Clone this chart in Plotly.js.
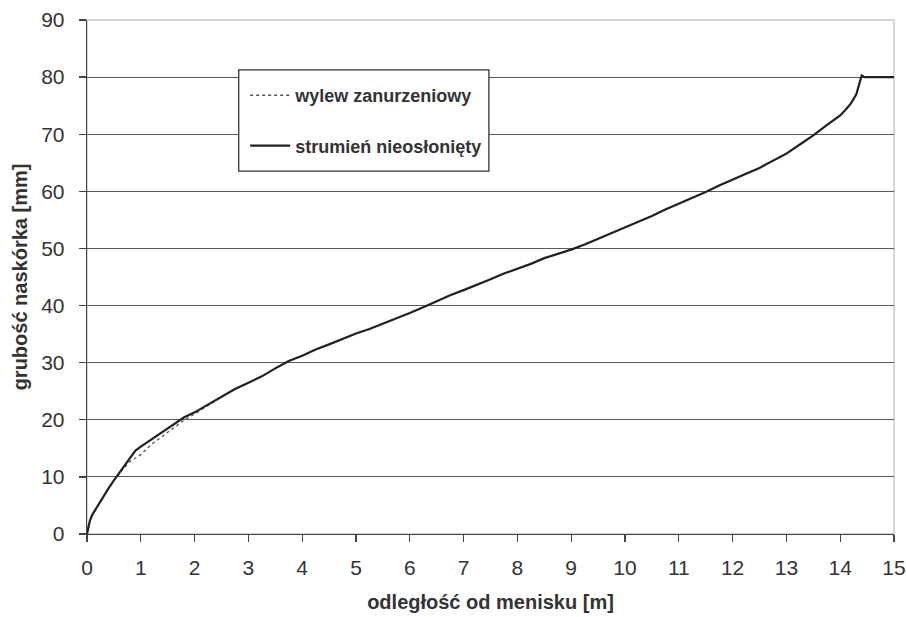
<!DOCTYPE html>
<html>
<head>
<meta charset="utf-8">
<script src="https://cdn.plot.ly/plotly-3.0.1.min.js"></script>
<style>html,body{margin:0;padding:0;background:#fff;}#chart{width:906px;height:617px;}</style>
</head>
<body>
<div id="chart"></div>
<script>
// distance from meniscus [m] and shell thickness [mm]
const xVals = [0, 0.05, 0.1, 0.2, 0.3, 0.4, 0.5, 0.6, 0.7, 0.8, 0.9, 1.0, 1.2, 1.4, 1.6, 1.8, 2.0, 2.25, 2.5, 2.75, 3.0, 3.25, 3.5, 3.75, 4.0, 4.25, 4.5, 4.75, 5.0, 5.25, 5.5, 5.75, 6.0, 6.25, 6.5, 6.75, 7.0, 7.25, 7.5, 7.75, 8.0, 8.25, 8.5, 8.75, 9.0, 9.25, 9.5, 9.75, 10.0, 10.25, 10.5, 10.75, 11.0, 11.25, 11.5, 11.75, 12.0, 12.25, 12.5, 12.75, 13.0, 13.25, 13.5, 13.75, 14.0, 14.1, 14.2, 14.3, 14.35, 14.4, 14.45, 15.0];
const ySolid = [0, 2.2, 3.4, 5.0, 6.6, 8.0, 9.4, 10.7, 12.0, 13.3, 14.6, 15.3, 16.6, 17.8, 19.1, 20.4, 21.3, 22.7, 24.1, 25.4, 26.5, 27.6, 29.0, 30.3, 31.2, 32.3, 33.2, 34.2, 35.1, 35.9, 36.8, 37.7, 38.7, 39.7, 40.8, 41.8, 42.7, 43.6, 44.6, 45.6, 46.4, 47.3, 48.3, 49.0, 49.8, 50.7, 51.7, 52.6, 53.6, 54.6, 55.7, 56.8, 57.8, 58.9, 59.9, 61.0, 62.1, 63.1, 64.1, 65.3, 66.6, 68.2, 69.8, 71.6, 73.3, 74.3, 75.4, 77.0, 78.6, 80.3, 80.0, 80.0];
const yDotted = [0, 2.2, 3.4, 5.0, 6.6, 8.0, 9.4, 10.6, 11.7, 12.7, 13.3, 13.9, 15.7, 17.1, 18.6, 19.9, 21.0, 22.5, 24.0, 25.3, 26.5, 27.6, 29.0, 30.3, 31.2, 32.3, 33.2, 34.2, 35.1, 35.9, 36.8, 37.7, 38.7, 39.7, 40.8, 41.8, 42.7, 43.6, 44.6, 45.6, 46.4, 47.3, 48.3, 49.0, 49.8, 50.7, 51.7, 52.6, 53.6, 54.6, 55.7, 56.8, 57.8, 58.9, 59.9, 61.0, 62.1, 63.1, 64.1, 65.3, 66.6, 68.2, 69.8, 71.6, 73.3, 74.3, 75.4, 77.0, 78.6, 80.3, 80.0, 80.0];
const xTicks = [0, 1, 2, 3, 4, 5, 6, 7, 8, 9, 10, 11, 12, 13, 14, 15];
const yTicks = [0, 10, 20, 30, 40, 50, 60, 70, 80, 90];
const yGrid = [10, 20, 30, 40, 50, 60, 70, 80];
const names = ['wylew zanurzeniowy', 'strumień nieosłonięty'];

const font = 'Liberation Sans, Arial, sans-serif';
const traces = [
  {x: xVals, y: yDotted, mode: 'lines', name: names[0], legendgroup: 'a',
   line: {color: '#555', width: 1.3, dash: 'dot'}},
  {x: xVals, y: ySolid, mode: 'lines', name: names[1], legendgroup: 'b',
   line: {color: '#222', width: 2.2}},
  {x: [0], y: [0], yaxis: 'y2', mode: 'none', showlegend: false, hoverinfo: 'skip'}
];

const layout = {
  width: 906, height: 617,
  margin: {l: 87, r: 12, t: 20, b: 83},
  paper_bgcolor: '#fff', plot_bgcolor: '#fff',
  showlegend: true,
  font: {family: font, color: '#333', size: 21},
  xaxis: {
    range: [0, 15], tickvals: xTicks, ticktext: xTicks.map(String),
    showgrid: false, zeroline: false, showline: true, linecolor: '#444', linewidth: 1.3,
    ticks: 'outside', ticklen: 7, tickcolor: '#444', tickwidth: 1.3, ticklabelstandoff: 7,
    tickfont: {family: font, size: 21, color: '#333'},
    title: {text: '<b>odległość od menisku [m]</b>', font: {family: font, size: 20, color: '#333'}, standoff: 17}
  },
  yaxis: {
    range: [0, 90], tickvals: yTicks, ticktext: yTicks.map(String),
    showgrid: false, zeroline: false, showline: true, linecolor: '#444', linewidth: 1.3,
    ticks: 'outside', ticklen: 7, tickcolor: '#444', tickwidth: 1.3, ticklabelstandoff: 10,
    tickfont: {family: font, size: 21, color: '#333'},
    title: {text: '<b>grubość naskórka [mm]</b>', font: {family: font, size: 20, color: '#333'}, standoff: 8}
  },
  yaxis2: {
    overlaying: 'y', range: [0, 90], tickvals: yGrid, showticklabels: false,
    showgrid: true, gridcolor: '#5a5a5a', gridwidth: 1, zeroline: false, showline: false, ticks: ''
  },
  shapes: [
    {type: 'rect', xref: 'paper', yref: 'paper', x0: 0, x1: 1, y0: 0, y1: 1,
     line: {color: '#c4c4c4', width: 1.3}, layer: 'below'},
    {type: 'rect', xref: 'paper', yref: 'paper', x0: 0.188, x1: 0.498, y0: 0.706, y1: 0.903,
     line: {color: '#333', width: 1.3}, fillcolor: '#fff', layer: 'above'}
  ],
  legend: {
    x: 0.196, y: 0.889, xanchor: 'left', yanchor: 'top',
    bgcolor: 'rgba(0,0,0,0)', borderwidth: 0,
    font: {family: font, size: 18, color: '#333', weight: 'bold'},
    tracegroupgap: 24, traceorder: 'grouped', itemwidth: 40
  }
};

Plotly.newPlot('chart', traces, layout, {displayModeBar: false, staticPlot: true});
</script>
</body>
</html>
